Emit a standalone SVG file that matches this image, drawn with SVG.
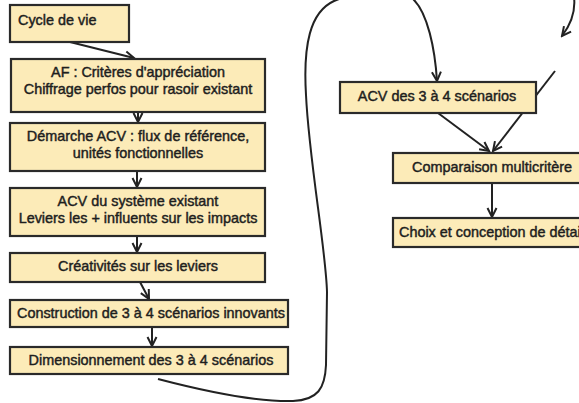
<svg xmlns="http://www.w3.org/2000/svg" width="579" height="403" viewBox="0 0 579 403">
<defs>
<style>
.box{fill:#FCEBB8;stroke:#2a2a2a;stroke-width:2.2}
.t{font-family:"Liberation Sans",Arial,sans-serif;font-size:14.4px;fill:#1e1e1e;text-anchor:middle;stroke:#1e1e1e;stroke-width:0.45}
.c{fill:none;stroke:#222;stroke-width:2}
</style>
<marker id="a" viewBox="0 0 12 12" refX="10" refY="6" markerWidth="12" markerHeight="12" markerUnits="userSpaceOnUse" orient="auto">
<path d="M1,1.5 L10,6 L1,10.5" fill="none" stroke="#222" stroke-width="2"/>
</marker>
</defs>
<rect width="579" height="403" fill="#fff"/>
<g id="connectors">
<path class="c" d="M70,42 L134,58" marker-end="url(#a)"/>
<path class="c" d="M138,112 L138,122" marker-end="url(#a)"/>
<path class="c" d="M137,171 L137,187" marker-end="url(#a)"/>
<path class="c" d="M137,236 L137,252" marker-end="url(#a)"/>
<path class="c" d="M140,282 L149,299" marker-end="url(#a)"/>
<path class="c" d="M152,327 L152,346" marker-end="url(#a)"/>
<path class="c" d="M158,379 C200,390 255,402 293,401 C318,400 325,388 326,365 L327,292 C326,250 309,160 306,95 C303,45 310,12 334,1 C360,-10 395,-10 412,-2 C428,12 435,50 437,81" marker-end="url(#a)"/>
<path class="c" d="M574,-3 C576,14 569,27 562,36" marker-end="url(#a)"/>
<path class="c" d="M555,71 L493,151" marker-end="url(#a)"/>
<path class="c" d="M438,113 L489,151" marker-end="url(#a)"/>
<path class="c" d="M492,183 L492,217" marker-end="url(#a)"/>
</g>
<g id="n1"><rect class="box" x="10" y="5" width="119" height="37"/><text class="t" x="18" y="25" style="text-anchor:start">Cycle de vie</text></g>
<g id="n2"><rect class="box" x="11" y="59" width="254" height="53"/><text class="t" x="138" y="77">AF : Critères d'appréciation</text><text class="t" x="138" y="94">Chiffrage perfos pour rasoir existant</text></g>
<g id="n3"><rect class="box" x="10" y="123" width="255" height="48"/><text class="t" x="138" y="141">Démarche ACV : flux de référence,</text><text class="t" x="138" y="158">unités fonctionnelles</text></g>
<g id="n4"><rect class="box" x="10" y="188" width="255" height="48"/><text class="t" x="138" y="206">ACV du système existant</text><text class="t" x="138" y="223">Leviers les + influents sur les impacts</text></g>
<g id="n5"><rect class="box" x="10" y="253" width="255" height="29"/><text class="t" x="138" y="271">Créativités sur les leviers</text></g>
<g id="n6"><rect class="box" x="10" y="300" width="278" height="27"/><text class="t" x="151" y="318">Construction de 3 à 4 scénarios innovants</text></g>
<g id="n7"><rect class="box" x="10" y="347" width="278" height="27"/><text class="t" x="151" y="365">Dimensionnement des 3 à 4 scénarios</text></g>
<g id="n8"><rect class="box" x="340" y="82" width="196" height="31"/><text class="t" x="437" y="101">ACV des 3 à 4 scénarios</text></g>
<g id="n9"><rect class="box" x="393" y="153" width="200" height="30"/><text class="t" x="492" y="172">Comparaison multicritère</text></g>
<g id="n10"><rect class="box" x="393" y="218" width="200" height="29"/><text class="t" x="399" y="237" style="text-anchor:start">Choix et conception de détail</text></g>
</svg>
